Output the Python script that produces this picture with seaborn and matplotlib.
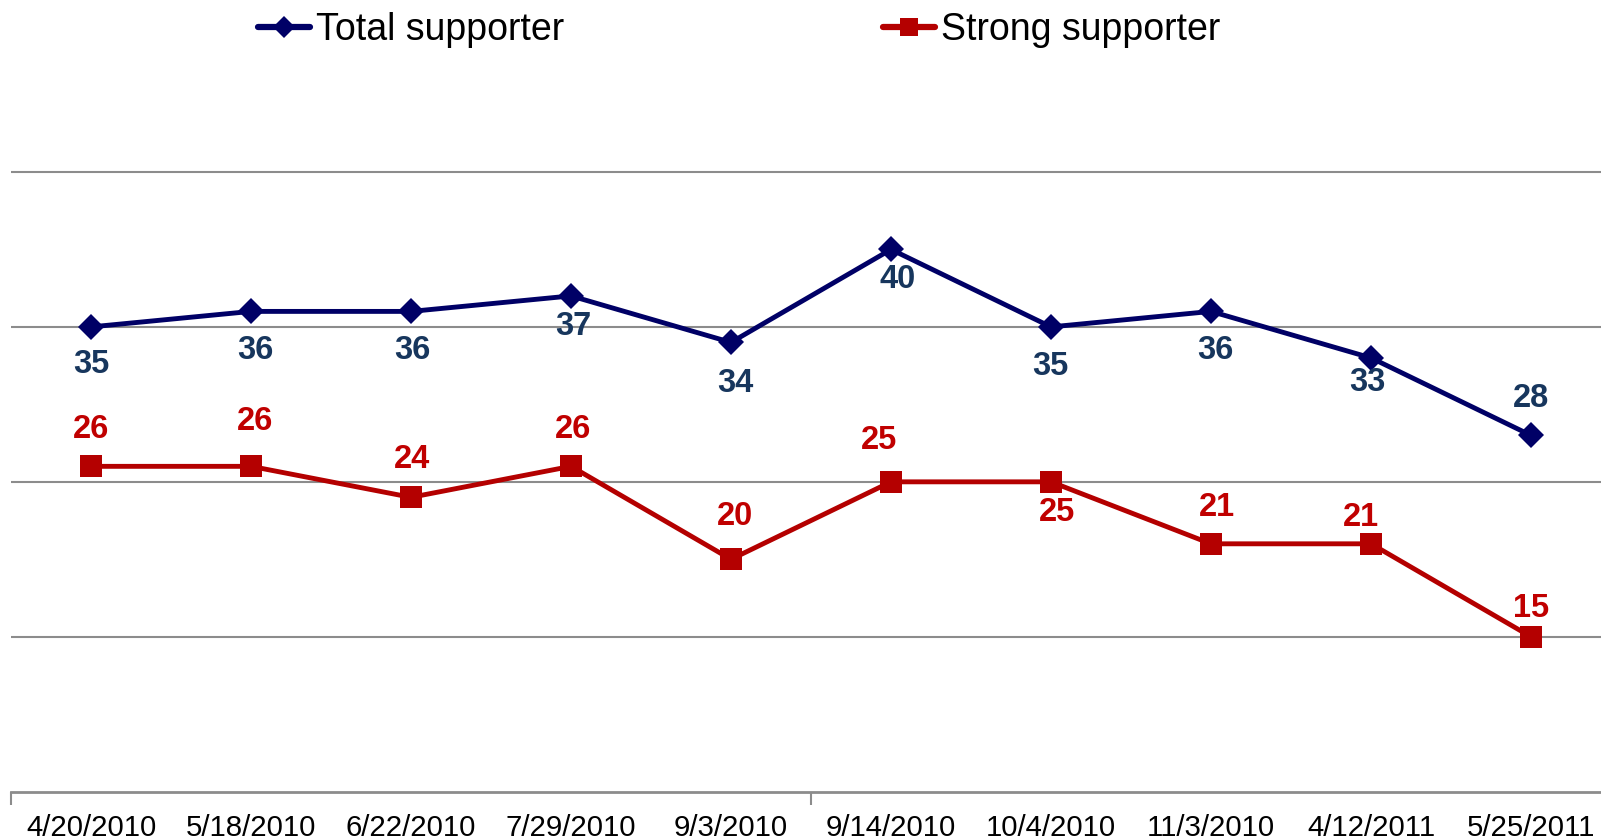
import matplotlib
matplotlib.use("Agg")
import matplotlib.pyplot as plt
from matplotlib.lines import Line2D
from matplotlib.ticker import FixedLocator
import seaborn as sns
import pandas as pd
import numpy as np

# Survey dates and shares (%)
dates = ["4/20/2010", "5/18/2010", "6/22/2010", "7/29/2010", "9/3/2010",
         "9/14/2010", "10/4/2010", "11/3/2010", "4/12/2011", "5/25/2011"]
total_supporter = [35, 36, 36, 37, 34, 40, 35, 36, 33, 28]
strong_supporter = [26, 26, 24, 26, 20, 25, 25, 21, 21, 15]
series_names = ["Total supporter", "Strong supporter"]

# Label placement: pixel offsets (dx, dy) from each point
total_offsets = [(0, -38), (4, -39), (1, -39), (2, -31), (4, -41),
                 (7, -30), (-1, -40), (4, -39), (-4, -25), (0, 37)]
strong_offsets = [(0, 37), (4, 45), (1, 38), (2, 37), (4, 43),
                  (-12, 41), (6, -31), (6, 36), (-10, 26), (0, 28)]

NAVY = "#000066"
NAVY_TEXT = "#17365D"
RED = "#B40000"
RED_TEXT = "#C00000"
GRID = "#8C8C8C"

sns.set_theme(style="white")
plt.rcParams["font.family"] = ["Liberation Sans", "DejaVu Sans"]

W, H = 1601, 840
fig = plt.figure(figsize=(W / 100, H / 100), dpi=100)
ax_bottom = 791.7
ax_top = 94.5
ax = fig.add_axes([11 / W, (H - ax_bottom) / H, 1600 / W, (ax_bottom - ax_top) / H])

pos = np.arange(len(dates))
df_total = pd.DataFrame({"pos": pos, "value": total_supporter})
df_strong = pd.DataFrame({"pos": pos, "value": strong_supporter})

sns.lineplot(data=df_total, x="pos", y="value", color=NAVY, linewidth=3.5,
             marker="D", markersize=13.5, markeredgewidth=0, ax=ax, zorder=3)
sns.lineplot(data=df_strong, x="pos", y="value", color=RED, linewidth=3.5,
             marker="s", markersize=15.5, markeredgewidth=0, ax=ax, zorder=3)

ax.set_xlim(-0.5, len(dates) - 0.5)
ax.set_ylim(5, 50)
ax.set_xlabel("")
ax.set_ylabel("")

# horizontal gridlines
ax.set_yticks([15, 25, 35, 45])
ax.yaxis.grid(True, color=GRID, linewidth=1.5)
ax.xaxis.grid(False)
ax.tick_params(axis="y", left=False, labelleft=False)

ax.set_xticks(pos)
ax.set_xticklabels(dates, fontsize=21.2, color="black")
ax.tick_params(axis="x", which="major", length=0, pad=16)
ax.xaxis.set_minor_locator(FixedLocator([-0.5, 4.5, 9.5]))
ax.tick_params(axis="x", which="minor", bottom=True, length=9, width=1.5, color=GRID)

for side in ["top", "right", "left"]:
    ax.spines[side].set_visible(False)
ax.spines["bottom"].set_color(GRID)
ax.spines["bottom"].set_linewidth(2)

for xi, v, (dx, dy) in zip(pos, total_supporter, total_offsets):
    ax.annotate(f"{v}", (xi, v), xytext=(dx, dy), textcoords="offset pixels",
                ha="center", va="center", fontsize=23.5, fontweight="bold",
                color=NAVY_TEXT, zorder=4)
for xi, v, (dx, dy) in zip(pos, strong_supporter, strong_offsets):
    ax.annotate(f"{v}", (xi, v), xytext=(dx, dy), textcoords="offset pixels",
                ha="center", va="center", fontsize=23.5, fontweight="bold",
                color=RED_TEXT, zorder=4)

handles = [
    Line2D([], [], color=NAVY, linewidth=4.5, marker="D", markersize=11, markeredgewidth=0),
    Line2D([], [], color=RED, linewidth=4.5, marker="s", markersize=13, markeredgewidth=0),
]
fig.legend(handles, series_names, loc="center", bbox_to_anchor=(739 / W, 1 - 30 / H),
           ncol=2, frameon=False, fontsize=27, handlelength=1.4, labelcolor="black",
           handletextpad=0.15, columnspacing=8.5, borderpad=0, borderaxespad=0)

fig.savefig("out.png", dpi=100)
